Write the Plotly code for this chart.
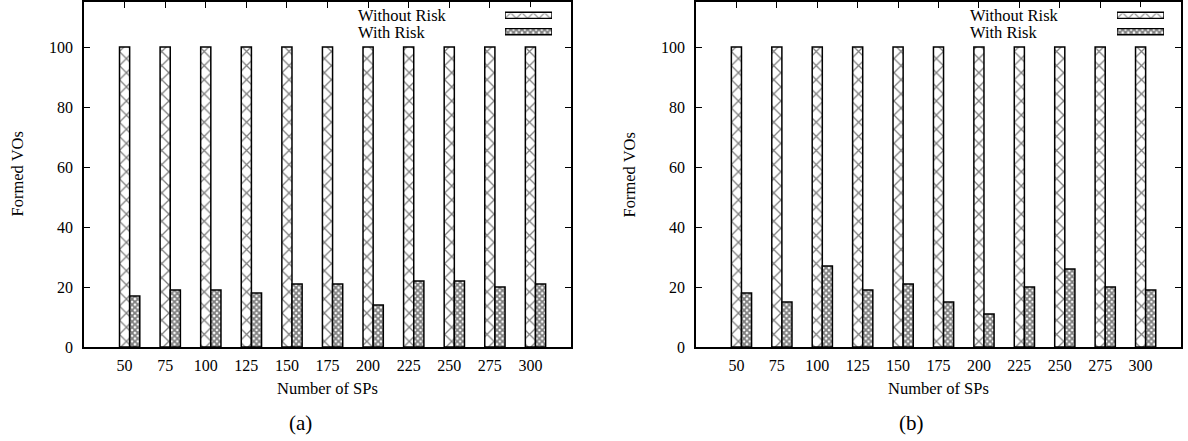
import plotly.graph_objects as go

# ---- data ----
sp_counts = ["50", "75", "100", "125", "150", "175", "200", "225", "250", "275", "300"]
a_without_risk = [100, 100, 100, 100, 100, 100, 100, 100, 100, 100, 100]
a_with_risk = [17, 19, 19, 18, 21, 21, 14, 22, 22, 20, 21]
b_without_risk = [100, 100, 100, 100, 100, 100, 100, 100, 100, 100, 100]
b_with_risk = [18, 15, 27, 19, 21, 15, 11, 20, 26, 20, 19]
y_ticks = [0, 20, 40, 60, 80, 100]
series_names = ["Without Risk", "With Risk"]
panel_labels = ["(a)", "(b)"]

W, H = 1188, 441
FONT = "Liberation Serif"

def px_x(p):
    return p / W

def px_y(p):
    return 1 - p / H

pat_white = dict(shape="x", size=10, solidity=0.24, fgcolor="black", bgcolor="white")
pat_dark = dict(shape="x", size=4, solidity=0.7, fgcolor="black", bgcolor="white")
pat_white_leg = dict(shape="x", size=8, solidity=0.25, fgcolor="black", bgcolor="white")
pat_dark_leg = dict(shape="x", size=4, solidity=0.7, fgcolor="black", bgcolor="white")

fig = go.Figure()

xpos = list(range(len(sp_counts)))
panels = [
    (a_without_risk, a_with_risk, "x", "y", 84, 571),
    (b_without_risk, b_with_risk, "x2", "y2", 696, 1181),
]
bar_w = 0.25
for wo, wi, xa, ya, _, _ in panels:
    fig.add_trace(go.Bar(x=xpos, y=wo, width=bar_w, offset=-bar_w / 2, xaxis=xa, yaxis=ya,
                         marker=dict(color="white", line=dict(color="black", width=1.5), pattern=pat_white),
                         showlegend=False, name=series_names[0]))
    fig.add_trace(go.Bar(x=xpos, y=wi, width=bar_w, offset=bar_w / 2, xaxis=xa, yaxis=ya,
                         marker=dict(color="white", line=dict(color="black", width=1.5), pattern=pat_dark),
                         showlegend=False, name=series_names[1]))

# legend samples (horizontal boxes) on small helper axes
leg_axes = [("x3", "y3", 505, 552, 356), ("x4", "y4", 1117, 1164, 968)]
for xa, ya, x0, x1, tx in leg_axes:
    fig.add_trace(go.Bar(x=[1], y=[1], orientation="h", width=0.37, xaxis=xa, yaxis=ya,
                         marker=dict(color="white", line=dict(color="black", width=1.4), pattern=pat_white_leg),
                         showlegend=False, hoverinfo="skip"))
    fig.add_trace(go.Bar(x=[1], y=[0], orientation="h", width=0.37, xaxis=xa, yaxis=ya,
                         marker=dict(color="white", line=dict(color="black", width=1.4), pattern=pat_dark_leg),
                         showlegend=False, hoverinfo="skip"))

ydom = [px_y(347), px_y(2)]
common_x = dict(range=[-1, 11], tickmode="array", tickvals=xpos, ticktext=sp_counts,
                ticks="inside", ticklen=6, tickwidth=1.2, tickcolor="black",
                showline=True, linecolor="black", linewidth=1.8, mirror="allticks",
                showgrid=False, zeroline=False, layer="below traces", automargin=False,
                tickfont=dict(family=FONT, size=16, color="black"), ticklabelstandoff=3)
common_y = dict(range=[0, 115], tickmode="array", tickvals=y_ticks,
                ticks="inside", ticklen=6, tickwidth=1.2, tickcolor="black",
                showline=True, linecolor="black", linewidth=1.8, mirror="allticks",
                showgrid=False, zeroline=False, automargin=False,
                tickfont=dict(family=FONT, size=16, color="black"), ticklabelstandoff=6)

fig.update_layout(
    width=W, height=H, margin=dict(l=0, r=0, t=0, b=0, autoexpand=False),
    paper_bgcolor="white", plot_bgcolor="white",
    barmode="overlay", showlegend=False,
    xaxis=dict(domain=[px_x(84), px_x(571)], anchor="y", **common_x),
    yaxis=dict(domain=ydom, anchor="x", **common_y),
    xaxis2=dict(domain=[px_x(696), px_x(1181)], anchor="y2", **common_x),
    yaxis2=dict(domain=ydom, anchor="x2", **common_y),
)
for i, (xa, ya, x0, x1, tx) in enumerate(leg_axes):
    fig.update_layout(**{
        ("xaxis3" if i == 0 else "xaxis4"): dict(domain=[px_x(x0), px_x(x1)], range=[0, 1], visible=False,
                                                 anchor=ya, fixedrange=True, automargin=False),
        ("yaxis3" if i == 0 else "yaxis4"): dict(domain=[px_y(39.9), px_y(7.1)], range=[-0.5, 1.5], visible=False,
                                                 anchor=xa, fixedrange=True, automargin=False),
    })

annotations = []
for (wo, wi, xa, ya, l, r), lab, (_, _, _, _, tx) in zip(panels, panel_labels, leg_axes):
    cx = (l + r) / 2
    annotations.append(dict(text="Number of SPs", x=px_x(cx), y=px_y(388), xref="paper", yref="paper",
                            xanchor="center", yanchor="middle", showarrow=False,
                            font=dict(family=FONT, size=16.5, color="black")))
    annotations.append(dict(text="Formed VOs", x=px_x(l - 67), y=px_y(174.5), xref="paper", yref="paper",
                            xanchor="center", yanchor="middle", textangle=-90, showarrow=False,
                            font=dict(family=FONT, size=16.5, color="black")))
    annotations.append(dict(text=lab, x=px_x(cx - 27), y=px_y(423), xref="paper", yref="paper",
                            xanchor="center", yanchor="middle", showarrow=False,
                            font=dict(family=FONT, size=21, color="black")))
    annotations.append(dict(text=series_names[0], x=px_x(tx), y=px_y(15.5), xref="paper", yref="paper",
                            xanchor="left", yanchor="middle", showarrow=False,
                            font=dict(family=FONT, size=16.5, color="black")))
    annotations.append(dict(text=series_names[1], x=px_x(tx), y=px_y(32), xref="paper", yref="paper",
                            xanchor="left", yanchor="middle", showarrow=False,
                            font=dict(family=FONT, size=16.5, color="black")))
fig.update_layout(annotations=annotations)

fig.write_html("out.html", config={"displayModeBar": False},
               post_script="document.body.style.margin='0';document.body.style.overflow='hidden';")
